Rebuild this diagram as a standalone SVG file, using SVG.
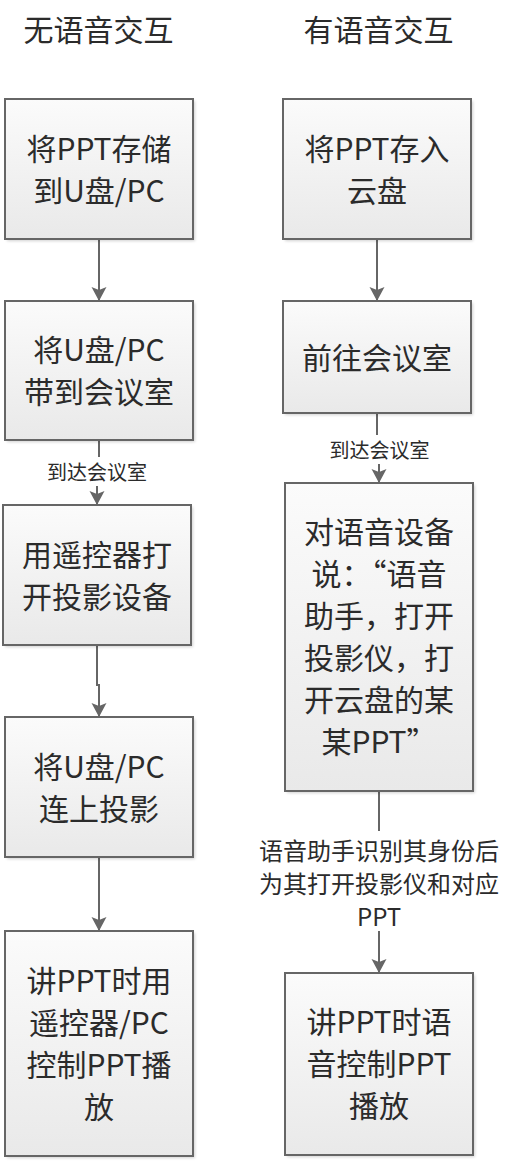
<svg xmlns="http://www.w3.org/2000/svg" width="508" height="1162" viewBox="0 0 508 1162">
<style>
text{font-family:"Noto Sans CJK SC","Liberation Sans",sans-serif;fill:#2b2b2b;text-anchor:middle;dominant-baseline:central}
.t{font-size:30px}
.n{font-size:30px}
.l1{font-size:20px}
.l2{font-size:24px}
.box{fill:url(#g);stroke:#666;stroke-width:2}
.sh{fill:#000;opacity:0.18;filter:url(#blur)}
.c{fill:none;stroke:#666;stroke-width:2;marker-end:url(#arr)}
.bg{fill:#fff}
</style>
<defs>
<linearGradient id="g" x1="0" y1="0" x2="0" y2="1">
<stop offset="0" stop-color="#fbfbfb"/>
<stop offset="1" stop-color="#e9e9e9"/>
</linearGradient>
<filter id="blur" x="-10%" y="-10%" width="120%" height="120%"><feGaussianBlur stdDeviation="1.5"/></filter>
<marker id="arr" markerUnits="userSpaceOnUse" markerWidth="20" markerHeight="20" viewBox="-15 -10 20 20" refX="0" refY="0" orient="auto">
<path d="M0,0 L-14,-7.5 L-11,0 L-14,7.5 z" fill="#666"/>
</marker>
</defs>

<text class="t" x="98.5" y="28">无语音交互</text>
<text class="t" x="378.5" y="28">有语音交互</text>

<g id="connectors">
<path class="c" d="M99,239 V301"/>
<path class="c" d="M99,440 V473 H97 V505"/>
<path class="c" d="M97,645 V685 H99 V717"/>
<path class="c" d="M99,857 V931"/>
<path class="c" d="M377,239 V301"/>
<path class="c" d="M377,413 V450 H379 V483"/>
<path class="c" d="M379,791 V973"/>
<rect class="bg" x="45" y="457" width="105" height="29"/>
<text class="l1" x="97" y="471">到达会议室</text>
<rect class="bg" x="327" y="435" width="105" height="29"/>
<text class="l1" x="379.5" y="449">到达会议室</text>
<rect class="bg" x="256" y="831" width="246" height="100"/>
<text class="l2" x="379" y="849">语音助手识别其身份后</text>
<text class="l2" x="379" y="882">为其打开投影仪和对应</text>
<text class="l2" x="379" y="915">PPT</text>
</g>

<g id="n1">
<rect class="sh" x="7" y="101" width="188" height="140"/>
<rect class="box" x="5" y="99" width="188" height="140"/>
<text class="n" x="99" y="147">将PPT存储</text>
<text class="n" x="99" y="189">到U盘/PC</text>
</g>
<g id="n2">
<rect class="sh" x="7" y="303" width="188" height="139"/>
<rect class="box" x="5" y="301" width="188" height="139"/>
<text class="n" x="99" y="348">将U盘/PC</text>
<text class="n" x="99" y="390">带到会议室</text>
</g>
<g id="n3">
<rect class="sh" x="5" y="507" width="188" height="140"/>
<rect class="box" x="3" y="505" width="188" height="140"/>
<text class="n" x="97" y="553">用遥控器打</text>
<text class="n" x="97" y="595">开投影设备</text>
</g>
<g id="n4">
<rect class="sh" x="7" y="719" width="188" height="140"/>
<rect class="box" x="5" y="717" width="188" height="140"/>
<text class="n" x="99" y="765">将U盘/PC</text>
<text class="n" x="99" y="807">连上投影</text>
</g>
<g id="n5">
<rect class="sh" x="7" y="933" width="188" height="225"/>
<rect class="box" x="5" y="931" width="188" height="225"/>
<text class="n" x="99" y="979">讲PPT时用</text>
<text class="n" x="99" y="1021">遥控器/PC</text>
<text class="n" x="99" y="1063">控制PPT播</text>
<text class="n" x="99" y="1105">放</text>
</g>
<g id="r1">
<rect class="sh" x="285" y="101" width="188" height="140"/>
<rect class="box" x="283" y="99" width="188" height="140"/>
<text class="n" x="377" y="147">将PPT存入</text>
<text class="n" x="377" y="189">云盘</text>
</g>
<g id="r2">
<rect class="sh" x="285" y="303" width="188" height="112"/>
<rect class="box" x="283" y="301" width="188" height="112"/>
<text class="n" x="377" y="356">前往会议室</text>
</g>
<g id="r3">
<rect class="sh" x="287" y="485" width="188" height="308"/>
<rect class="box" x="285" y="483" width="188" height="308"/>
<text class="n" x="379" y="530">对语音设备</text>
<text class="n" x="379" y="572">说：“语音</text>
<text class="n" x="379" y="614">助手，打开</text>
<text class="n" x="379" y="656">投影仪，打</text>
<text class="n" x="379" y="698">开云盘的某</text>
<text class="n" x="379" y="740">某PPT”</text>
</g>
<g id="r4">
<rect class="sh" x="287" y="975" width="188" height="182"/>
<rect class="box" x="285" y="973" width="188" height="182"/>
<text class="n" x="379" y="1020">讲PPT时语</text>
<text class="n" x="379" y="1062">音控制PPT</text>
<text class="n" x="379" y="1104">播放</text>
</g>
</svg>
